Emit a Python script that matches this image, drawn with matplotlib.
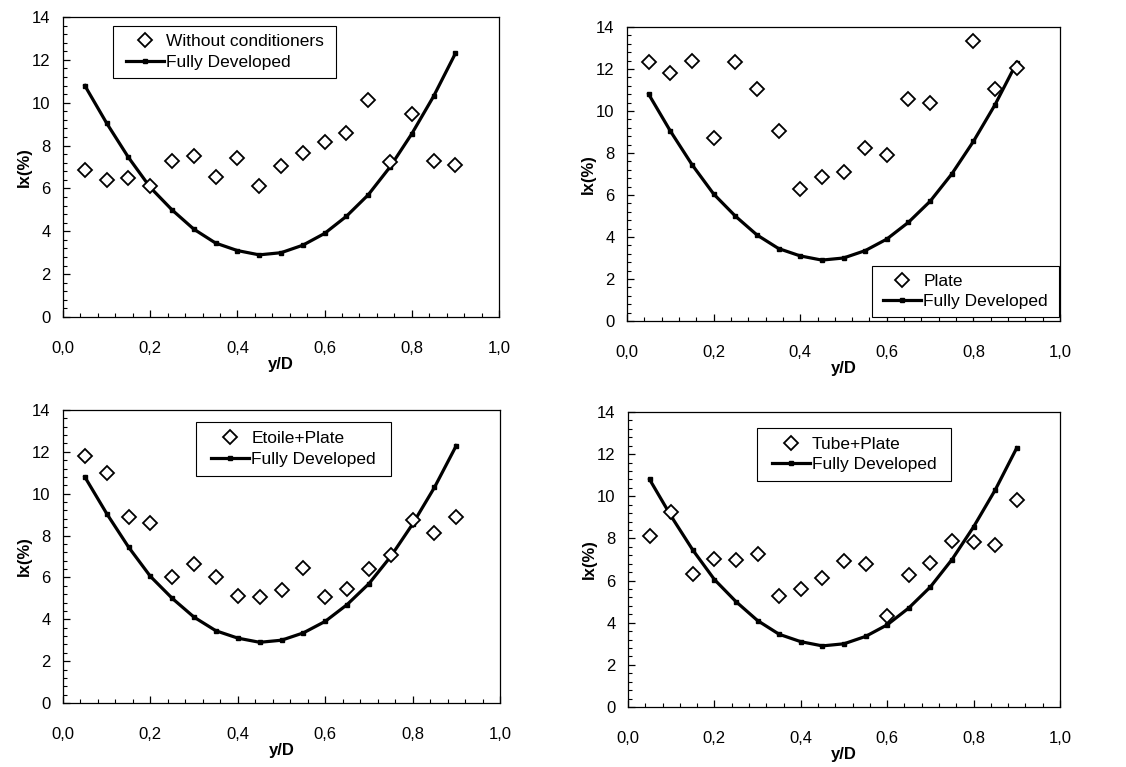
import numpy as np
import matplotlib
matplotlib.use("Agg")
import matplotlib.pyplot as plt
from matplotlib.ticker import MultipleLocator, FuncFormatter
from matplotlib.patches import Rectangle

plt.rcParams['font.family'] = ['Liberation Sans', 'DejaVu Sans']

# Radial positions y/D
y_d = [0.05, 0.10, 0.15, 0.20, 0.25, 0.30, 0.35, 0.40, 0.45,
       0.50, 0.55, 0.60, 0.65, 0.70, 0.75, 0.80, 0.85, 0.90]

# Turbulence intensity Ix (%) for fully developed pipe flow
fully_developed = [10.8, 9.05, 7.45, 6.05, 5.0, 4.1, 3.45, 3.1, 2.9,
                   3.0, 3.35, 3.9, 4.7, 5.7, 7.0, 8.55, 10.3, 12.3]

# Measured Ix (%) downstream of each configuration
without_cond = [6.84, 6.38, 6.49, 6.13, 7.28, 7.50, 6.53, 7.42, 6.11,
                7.06, 7.64, 8.16, 8.57, 10.14, 7.25, 9.47, 7.26, 7.11]
plate = [12.32, 11.81, 12.37, 8.73, 12.35, 11.05, 9.03, 6.28, 6.84,
         7.11, 8.25, 7.89, 10.59, 10.40, np.nan, 13.34, 11.05, 12.03]
etoile_plate = [11.80, 11.0, 8.88, 8.61, 6.0, 6.62, 6.0, 5.09, 5.07,
                5.42, 6.43, 5.06, 5.47, 6.40, 7.07, 8.74, 8.13, 8.90]
tube_plate = [8.12, 9.24, 6.33, 7.04, 6.98, 7.25, 5.26, 5.58, 6.14,
              6.94, 6.80, 4.33, 6.25, 6.85, 7.86, 7.82, 7.69, 9.83]

W, H = 1126, 767
fig = plt.figure(figsize=(W / 100, H / 100), dpi=100)
fig.patch.set_facecolor('white')


def px_axes(left, right, top, bottom):
    return fig.add_axes([left / W, 1 - bottom / H, (right - left) / W, (bottom - top) / H])


def px_box(left, right, top, bottom):
    """Box given in pixels (origin top-left) -> figure-fraction (x0, y0, w, h)."""
    return (left / W, 1 - bottom / H, (right - left) / W, (bottom - top) / H)


panels = [
    (px_axes(63, 499, 17, 317), without_cond, "Without conditioners",
     px_box(113, 336, 26, 78)),
    (px_axes(627, 1060, 27, 321), plate, "Plate",
     px_box(872, 1059, 266, 317)),
    (px_axes(63, 500, 410, 703), etoile_plate, "Etoile+Plate",
     px_box(196, 391, 422, 476)),
    (px_axes(628, 1060, 412, 707), tube_plate, "Tube+Plate",
     px_box(757, 951, 428, 481)),
]

comma = FuncFormatter(lambda v, pos: f"{v:.1f}".replace('.', ','))

for ax, meas, label, box in panels:
    ax.plot(y_d, meas, linestyle='none', marker='D', ms=7.4,
            mfc='white', mec='black', mew=1.3, label=label, zorder=3)
    ax.plot(y_d, fully_developed, color='black', lw=2.3, marker='s', ms=2.8,
            label='Fully Developed', zorder=2)

    ax.set_xlim(0, 1.0)
    ax.set_ylim(0, 14)
    ax.xaxis.set_major_locator(MultipleLocator(0.2))
    ax.xaxis.set_minor_locator(MultipleLocator(0.04))
    ax.yaxis.set_major_locator(MultipleLocator(2))
    ax.yaxis.set_minor_locator(MultipleLocator(0.4))
    ax.xaxis.set_major_formatter(comma)

    ax.tick_params(which='both', direction='in', top=False, right=False,
                   labelsize=12, colors='black')
    ax.tick_params(which='major', length=5, width=0.9)
    ax.tick_params(which='minor', length=3, width=0.8)
    ax.tick_params(axis='y', pad=9)
    ax.tick_params(axis='x', pad=17)
    for sp in ax.spines.values():
        sp.set_linewidth(0.9)
        sp.set_color('black')

    ax.set_xlabel('y/D', fontsize=12, fontweight='bold', labelpad=1)
    ax.set_ylabel('Ix(%)', fontsize=12, fontweight='bold', labelpad=0)

    # Legend frame drawn as a plain rectangle, contents centred inside it
    x0, y0, bw, bh = box
    frame = Rectangle((x0, y0), bw, bh, transform=fig.transFigure,
                      facecolor='white', edgecolor='black', linewidth=0.8,
                      clip_on=False, zorder=5)
    ax.add_patch(frame)
    leg = ax.legend(fontsize=12.5, frameon=False, borderaxespad=0,
                    handlelength=2.2, handletextpad=0.1, labelspacing=0.3,
                    borderpad=0.2, loc='center',
                    bbox_to_anchor=(x0 + bw / 2, y0 + bh / 2),
                    bbox_transform=fig.transFigure)
    leg.set_zorder(6)

fig.savefig('out.png', dpi=100, facecolor='white')
